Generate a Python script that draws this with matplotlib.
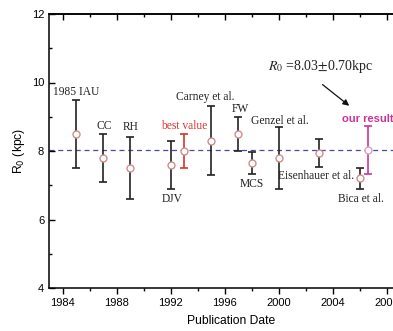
import matplotlib
matplotlib.use("Agg")
import matplotlib.pyplot as plt

# measurements: year, R0 (kpc), error
years = [1985, 1987, 1989, 1992, 1995, 1997, 1998, 2000, 2003, 2006]
r0 = [8.5, 7.8, 7.5, 7.6, 8.3, 8.5, 7.66, 7.8, 7.94, 7.2]
err = [1.0, 0.7, 0.9, 0.7, 1.0, 0.5, 0.32, 0.9, 0.42, 0.3]

best_year, best_r0, best_err = 1993, 8.0, 0.5
our_year, our_r0, our_err = 2006.6, 8.03, 0.70

# label text, x, y
labels = [("1985 IAU", 1985.0, 9.72), ("CC", 1987.1, 8.73), ("RH", 1989.05, 8.7),
          ("Carney et al.", 1994.6, 9.59), ("FW", 1997.2, 9.23),
          ("Genzel et al.", 2000.07, 8.89), ("DJV", 1992.1, 6.59),
          ("MCS", 1998.0, 7.04), ("Eisenhauer et al.", 2002.8, 7.27),
          ("Bica et al.", 2006.1, 6.59)]

plt.rcParams['font.family'] = ['Liberation Sans', 'DejaVu Sans']
serif = "Liberation Serif"

fig = plt.figure(figsize=(3.93, 3.31), dpi=100)
ax = fig.add_axes([49/393, 43/331, 364.5/393, 274/331])

ax.axhline(our_r0, color="#4a4aa8", ls=(0, (4, 3)), lw=0.9, zorder=1)

mk = dict(fmt="o", ms=5, mfc="white", capsize=3, elinewidth=1.2, capthick=1.2, zorder=3)
ax.errorbar(years, r0, yerr=err, color="#222222", mec="#d48c8c", **mk)
ax.errorbar([best_year], [best_r0], yerr=[best_err], color="#d9342b", mec="#d48c8c", **mk)
ax.errorbar([our_year], [our_r0], yerr=[our_err], color="#cc3399", mec="#e0a0c0", **mk)

for txt, x, y in labels:
    ax.text(x, y, txt, family=serif, fontsize=8.3, ha="center", va="center", color="#222222")
ax.text(1993.0, 8.73, "best value", family=serif, fontsize=8.3, ha="center", va="center",
        color="#d9342b")
ax.text(2004.67, 8.93, "our result", fontsize=8, fontweight="bold", ha="left", va="center",
        color="#cc3399")
ax.text(2003.1, 10.46, r"$R_0$ =8.03$\pm$0.70kpc", family=serif, fontsize=10,
        ha="center", va="center", color="#222222", math_fontfamily="stix")
ax.annotate("", xy=(2005.4, 9.27), xytext=(2003.1, 9.99),
            arrowprops=dict(arrowstyle="-|>", color="#111111", lw=0.9, mutation_scale=9))

ax.set_xlim(1983, 2010)
ax.set_ylim(4, 12)
ax.set_xticks([1984, 1988, 1992, 1996, 2000, 2004, 2008])
ax.set_xticks(range(1986, 2010, 4), minor=True)
ax.set_yticks([4, 6, 8, 10, 12])
ax.set_yticks([5, 7, 9, 11], minor=True)
ax.tick_params(axis="x", which="both", direction="out", labelsize=8, width=1)
ax.tick_params(axis="y", which="both", direction="in", labelsize=8, width=1)
ax.tick_params(which="major", length=4)
ax.tick_params(which="minor", length=2.5)
for s in ax.spines.values():
    s.set_linewidth(1.1)
ax.spines["right"].set_visible(False)

# top axis: ticks pointing inward, no labels
top = ax.secondary_xaxis("top")
top.set_xticks([1984, 1988, 1992, 1996, 2000, 2004, 2008])
top.set_xticks(range(1986, 2010, 4), minor=True)
top.tick_params(which="both", direction="in", labeltop=False, width=1)
top.tick_params(which="major", length=4)
top.tick_params(which="minor", length=2.5)
top.spines["top"].set_linewidth(1.1)

ax.set_xlabel("Publication Date", fontsize=8.7, labelpad=5)
ax.set_ylabel(r"R$_0$ (kpc)", fontsize=8.7, labelpad=3)

fig.savefig("out.png", dpi=100)
